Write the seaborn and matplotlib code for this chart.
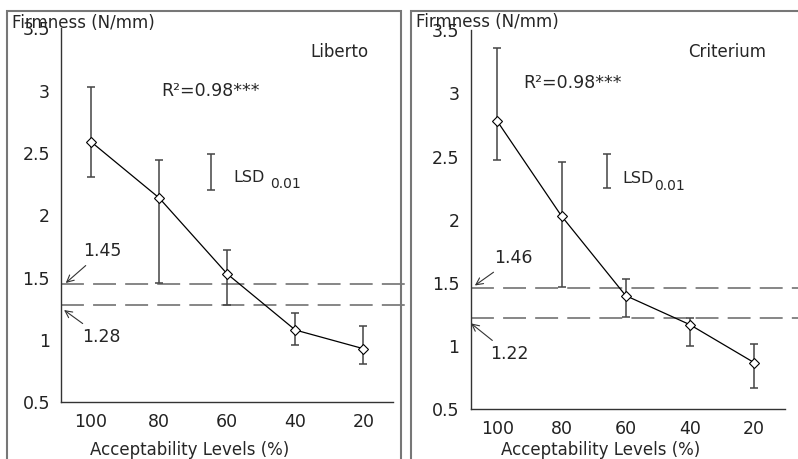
import matplotlib
matplotlib.use("Agg")
import matplotlib.pyplot as plt
import seaborn as sns
import pandas as pd
from matplotlib.patches import Rectangle

# Datos: firmeza según nivel de aceptabilidad
niveles = [100, 80, 60, 40, 20]

liberto_media = [2.59, 2.14, 1.53, 1.08, 0.93]
liberto_sup = [3.03, 2.44, 1.72, 1.22, 1.11]
liberto_inf = [2.31, 1.46, 1.28, 0.96, 0.81]

criterium_media = [2.78, 2.03, 1.40, 1.17, 0.87]
criterium_sup = [3.36, 2.46, 1.53, 1.22, 1.02]
criterium_inf = [2.47, 1.47, 1.23, 1.00, 0.67]

# Umbrales (líneas discontinuas) y barra LSD
liberto_umbrales = [1.45, 1.28]
criterium_umbrales = [1.46, 1.22]
liberto_lsd = [2.20, 2.49]
criterium_lsd = [2.25, 2.52]

y_ticks = [0.5, 1, 1.5, 2, 2.5, 3, 3.5]
y_labels = ["0.5", "1", "1.5", "2", "2.5", "3", "3.5"]

sns.set_style("white")
plt.rcParams["font.family"] = ["DejaVu Sans"]

fig = plt.figure(figsize=(7.98, 4.59), dpi=100)

# Marcos grises de cada panel
for x0, w in [(7 / 798, 394 / 798), (411 / 798, 400 / 798)]:
    fig.patches.append(Rectangle((x0, -0.05), w, 1.05 - 11 / 459, transform=fig.transFigure,
                                 fill=False, edgecolor="#777777", linewidth=1.5))

ax1 = fig.add_axes([61 / 798, 1 - 402.3 / 459, 332 / 798, 374 / 459])
ax2 = fig.add_axes([470.7 / 798, 1 - 409.3 / 459, 314.6 / 798, 379 / 459])


def panel(ax, media, sup, inf, umbrales, lsd, nombre, xlim, lsd_x, txt):
    df = pd.DataFrame({"nivel": niveles, "firmeza": media})
    err_inf = [m - i for m, i in zip(media, inf)]
    err_sup = [s - m for m, s in zip(media, sup)]
    ax.errorbar(niveles, media, yerr=[err_inf, err_sup], fmt="none",
                ecolor="#444444", elinewidth=1.1, capsize=3, capthick=1.1, zorder=2)
    sns.lineplot(data=df, x="nivel", y="firmeza", ax=ax, color="black", linewidth=0.9,
                 marker="D", markersize=5, markerfacecolor="white",
                 markeredgecolor="black", markeredgewidth=0.8, zorder=3)
    for u in umbrales:
        ax.axhline(u, xmin=0, xmax=1.04, color="#666666", linewidth=1.1,
                   dashes=(15, 6), clip_on=False, zorder=1)
    ax.errorbar([lsd_x], [(lsd[0] + lsd[1]) / 2], yerr=[(lsd[1] - lsd[0]) / 2],
                fmt="none", ecolor="#444444", elinewidth=1.1, capsize=3, capthick=1.1)

    ax.set_xlim(*xlim)
    ax.set_ylim(0.5, 3.5)
    ax.set_xticks(niveles)
    ax.set_xticklabels([str(n) for n in niveles])
    ax.set_yticks(y_ticks)
    ax.set_yticklabels(y_labels)
    ax.set_xlabel("")
    ax.set_ylabel("")
    sns.despine(ax=ax)
    for s in ["left", "bottom"]:
        ax.spines[s].set_color("#333333")
        ax.spines[s].set_linewidth(1.0)
    ax.tick_params(axis="both", length=5, width=1, color="#333333",
                   labelsize=12.5, labelcolor="#222222", pad=3)

    ax.text(txt["r2"][0], txt["r2"][1], "R²=0.98***", fontsize=12.5, ha="left", va="center")
    ax.text(txt["nom"][0], txt["nom"][1], nombre, fontsize=12, ha="left", va="center")
    ax.text(txt["lsd"][0], txt["lsd"][1], "LSD", fontsize=11.5, ha="left", va="center")
    ax.text(txt["sub"][0], txt["sub"][1], "0.01", fontsize=10, ha="left", va="center")
    for (tx, ty), (ax_, ay), u in zip(txt["flechas"], txt["puntas"], umbrales):
        ax.annotate(f"{u:.2f}", xy=(ax_, ay), xytext=(tx, ty), fontsize=12.5,
                    ha="center", va="center", annotation_clip=False,
                    arrowprops=dict(arrowstyle="->", color="#333333", lw=0.8,
                                    shrinkA=2, shrinkB=0))


panel(ax1, liberto_media, liberto_sup, liberto_inf, liberto_umbrales, liberto_lsd,
      "Liberto", (108.8, 11.3), 64.8,
      {"r2": (79.4, 3.0), "nom": (35.6, 3.31), "lsd": (58.2, 2.30), "sub": (47.4, 2.25),
       "flechas": [(96.8, 1.71), (96.8, 1.02)], "puntas": [(107.4, 1.457), (107.9, 1.24)]})
panel(ax2, criterium_media, criterium_sup, criterium_inf, criterium_umbrales, criterium_lsd,
      "Criterium", (108.3, 10.25), 65.8,
      {"r2": (92.0, 3.08), "nom": (40.6, 3.33), "lsd": (60.9, 2.33), "sub": (51.2, 2.265),
       "flechas": [(95.1, 1.695), (96.1, 0.934)], "puntas": [(107.0, 1.48), (108.2, 1.18)]})

fig.text(12 / 798, 1 - 23 / 459, "Firmness (N/mm)", fontsize=12, ha="left", va="center")
fig.text(416 / 798, 1 - 22 / 459, "Firmness (N/mm)", fontsize=12, ha="left", va="center")
fig.text(190 / 798, 1 - 441 / 459, "Acceptability Levels (%)", fontsize=12, ha="center", va="top")
fig.text(601 / 798, 1 - 441 / 459, "Acceptability Levels (%)", fontsize=12, ha="center", va="top")

fig.savefig("out.png", dpi=100)
